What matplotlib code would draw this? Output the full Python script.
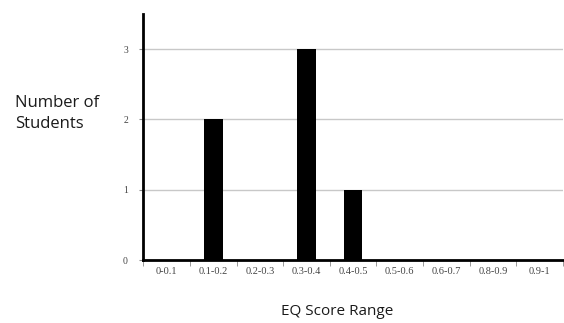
import matplotlib
matplotlib.use("Agg")
import matplotlib.pyplot as plt
import numpy as np

ranges = ["0-0.1", "0.1-0.2", "0.2-0.3", "0.3-0.4", "0.4-0.5",
          "0.5-0.6", "0.6-0.7", "0.8-0.9", "0.9-1"]
students = [0, 2, 0, 3, 1, 0, 0, 0, 0]
y_ticks = [0, 1, 2, 3]

fig = plt.figure(figsize=(5.64, 3.23), dpi=100)
ax = fig.add_axes([0.254, 0.195, 0.744, 0.762])

x = np.arange(len(ranges))
ax.bar(x, students, width=0.4, color="black", zorder=3)

ax.set_xlim(-0.5, len(ranges) - 0.5)
ax.set_ylim(0, 3.5)
ax.set_yticks(y_ticks)
ax.set_yticklabels([str(t) for t in y_ticks], family="Liberation Serif",
                   fontsize=7, color="#444444")
ax.yaxis.grid(True, color="#c8c8c8", linewidth=1, zorder=0)

ax.set_xticks(x)
ax.set_xticklabels(ranges, family="Liberation Serif", fontsize=7.5,
                   color="#444444")
ax.set_xticks(np.arange(len(ranges) + 1) - 0.5, minor=True)
ax.tick_params(axis="x", which="major", length=0, pad=5)
ax.tick_params(axis="x", which="minor", length=4, color="#888888")
ax.tick_params(axis="y", length=3, color="#888888", pad=8)

for side in ["top", "right"]:
    ax.spines[side].set_visible(False)
ax.spines["left"].set_linewidth(2)
ax.spines["bottom"].set_linewidth(2)

fig.text(0.027, 0.649, "Number of\nStudents", fontsize=12,
         family="Open Sans", va="center", ha="left", linespacing=1.45,
         color="#1a1a1a")
fig.text(0.598, 0.036, "EQ Score Range", fontsize=11, family="Open Sans",
         ha="center", va="center", color="#1a1a1a")

fig.savefig("out.png", dpi=100)
